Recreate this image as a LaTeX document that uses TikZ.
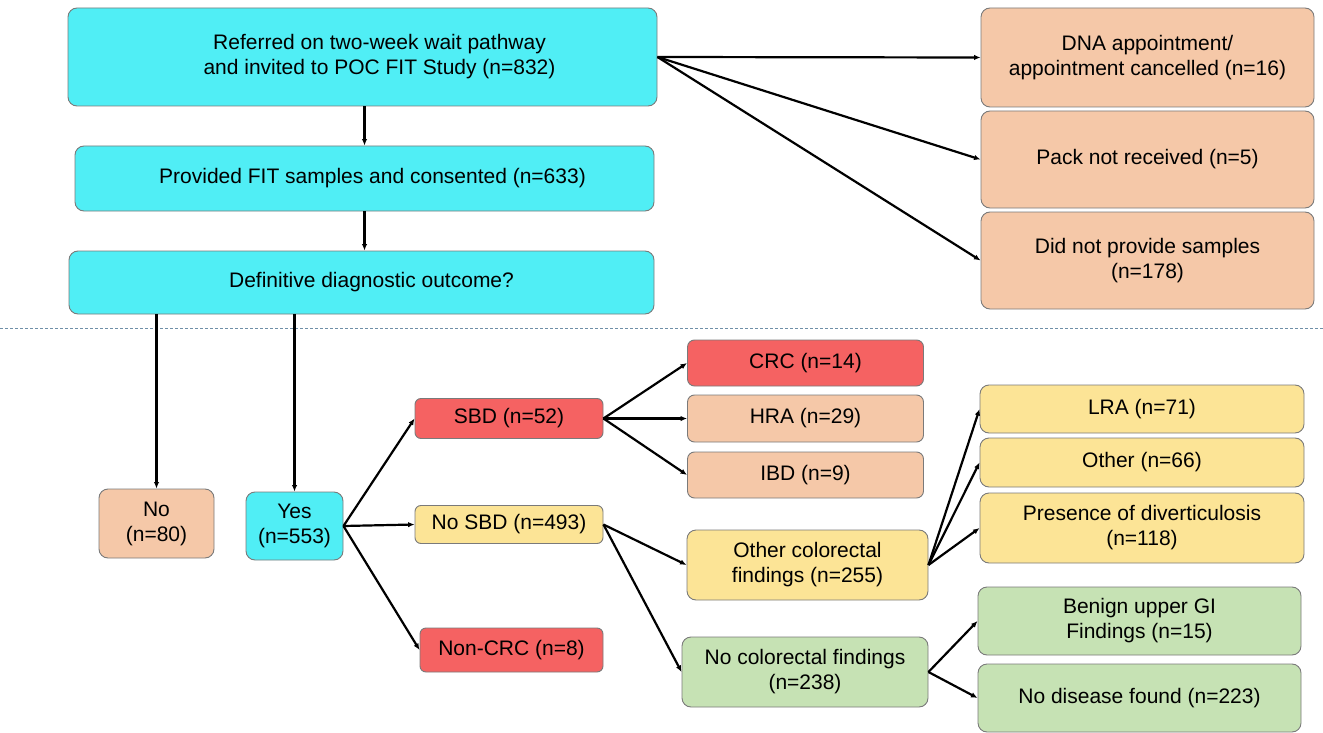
\documentclass[tikz,border=0pt]{standalone}
\usepackage{fontspec}
\setmainfont{Liberation Sans}
\usetikzlibrary{arrows.meta}
\definecolor{cyanbox}{HTML}{50EEF5}
\definecolor{peachbox}{HTML}{F5C8A8}
\definecolor{redbox}{HTML}{F56262}
\definecolor{yellowbox}{HTML}{FCE496}
\definecolor{greenbox}{HTML}{C6E2B4}
\definecolor{boxline}{HTML}{7A7A7A}
\definecolor{dashcol}{HTML}{6F8FA8}
\begin{document}
\begin{tikzpicture}[x=1pt,y=-1pt,
  box/.style={draw=boxline, line width=0.9pt, rounded corners=9pt, align=center, inner sep=2pt, font=\fontsize{21}{25}\selectfont},
  arr/.style={-{Latex[length=6.5pt,width=5.5pt]}, line width=2.2pt}]
\useasboundingbox (0,0) rectangle (1323,733);
% top section
\node[box, fill=cyanbox, minimum width=589pt, minimum height=98pt] (top) at (362.5,57) {\hspace*{34pt}Referred on two-week wait pathway\\\hspace*{34pt}and invited to POC FIT Study (n=832)};
\node[box, fill=cyanbox, minimum width=579pt, minimum height=65pt] (prov) at (364.5,178.5) {\hspace*{16pt}Provided FIT samples and consented (n=633)};
\node[box, fill=cyanbox, minimum width=585pt, minimum height=63pt] (defn) at (361.5,282.5) {\hspace*{20pt}Definitive diagnostic outcome?};
\node[box, fill=peachbox, minimum width=333pt, minimum height=99pt] (dna) at (1147.5,57.5) {DNA appointment/\\appointment cancelled (n=16)};
\node[box, fill=peachbox, minimum width=333pt, minimum height=97pt] (pack) at (1147.5,159.5) {Pack not received (n=5)};
\node[box, fill=peachbox, minimum width=333pt, minimum height=97pt] (didnot) at (1147.5,260.5) {Did not provide samples\\(n=178)};
% dashed separator
\draw[dashcol, line width=0.8pt, dash pattern=on 3pt off 2pt] (0,328) -- (1323,328);
% lower section
\node[box, fill=peachbox, minimum width=115pt, minimum height=69pt] (no) at (156.5,523.5) {No\\(n=80)};
\node[box, fill=cyanbox, minimum width=97pt, minimum height=68pt] (yes) at (294.5,526) {Yes\\(n=553)};
\node[box, fill=redbox, minimum width=188pt, minimum height=40pt, rounded corners=6pt] (sbd) at (509,418.5) {SBD (n=52)};
\node[box, fill=yellowbox, minimum width=188pt, minimum height=38pt, rounded corners=6pt] (nosbd) at (509,524.5) {No SBD (n=493)};
\node[box, fill=redbox, minimum width=183pt, minimum height=44pt, rounded corners=6pt] (noncrc) at (511.5,650) {Non-CRC (n=8)};
\node[box, fill=redbox, minimum width=236pt, minimum height=46pt, rounded corners=7pt] (crc) at (805.5,363) {CRC (n=14)};
\node[box, fill=peachbox, minimum width=236pt, minimum height=47pt, rounded corners=7pt] (hra) at (805.5,418.5) {HRA (n=29)};
\node[box, fill=peachbox, minimum width=236pt, minimum height=46pt, rounded corners=7pt] (ibd) at (805.5,475) {IBD (n=9)};
\node[box, fill=yellowbox, minimum width=241pt, minimum height=70pt] (othcol) at (807.5,565) {Other colorectal\\findings (n=255)};
\node[box, fill=greenbox, minimum width=246pt, minimum height=70pt] (nocol) at (805,672) {No colorectal findings\\(n=238)};
\node[box, fill=yellowbox, minimum width=324pt, minimum height=48pt] (lra) at (1142,409) {LRA (n=71)};
\node[box, fill=yellowbox, minimum width=324pt, minimum height=49pt] (other) at (1142,462.5) {Other (n=66)};
\node[box, fill=yellowbox, minimum width=324pt, minimum height=70pt] (pres) at (1142,528) {Presence of diverticulosis\\(n=118)};
\node[box, fill=greenbox, minimum width=323pt, minimum height=68pt] (benign) at (1139.5,621) {Benign upper GI\\Findings (n=15)};
\node[box, fill=greenbox, minimum width=323pt, minimum height=68pt] (nodis) at (1139.5,698) {No disease found (n=223)};
% connectors
\draw[arr] (top.south -| prov.north) -- (prov.north);
\draw[arr] (prov.south) -- (defn.north -| prov.south);
\draw[arr] (top.east) -- (dna.west);
\draw[arr] (top.east) -- (pack.west);
\draw[arr] (top.east) -- (didnot.west);
\draw[arr] (defn.south -| no.north) -- (no.north);
\draw[arr] (defn.south -| yes.north) -- (yes.north);
\draw[arr] (yes.east) -- (sbd.west);
\draw[arr] (yes.east) -- (nosbd.west);
\draw[arr] (yes.east) -- (noncrc.west);
\draw[arr] (sbd.east) -- (crc.west);
\draw[arr] (sbd.east) -- (hra.west);
\draw[arr] (sbd.east) -- (ibd.west);
\draw[arr] (nosbd.east) -- (othcol.west);
\draw[arr] (nosbd.east) -- (nocol.west);
\draw[arr] (othcol.east) -- (lra.west);
\draw[arr] (othcol.east) -- (other.west);
\draw[arr] (othcol.east) -- (pres.west);
\draw[arr] (nocol.east) -- (benign.west);
\draw[arr] (nocol.east) -- (nodis.west);
\end{tikzpicture}
\end{document}
